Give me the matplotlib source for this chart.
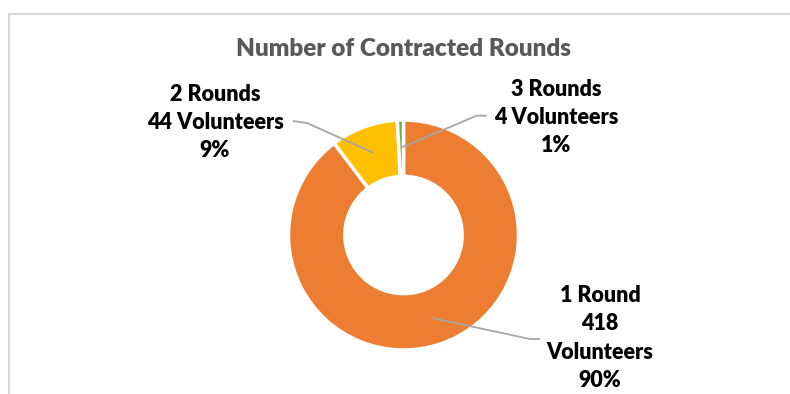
import numpy as np
import matplotlib.pyplot as plt

# contracted rounds per volunteer
categories = ['1 Round', '2 Rounds', '3 Rounds']
volunteers = [418, 44, 4]
percents = ['90%', '9%', '1%']
colors = ['#ED7D31', '#FFC000', '#70AD47']

W, H = 790, 394
plt.rcParams['font.family'] = ['Lato', 'DejaVu Sans']

fig = plt.figure(figsize=(W / 100, H / 100), dpi=100)
ax = fig.add_axes([0, 0, 1, 1])

# donut, first slice starting at 12 o'clock going clockwise
cx, cy, r = 403.5, H - 235, 115
wedges, _ = ax.pie(volunteers, colors=colors, startangle=90, counterclock=False,
                   center=(cx, cy), radius=r,
                   wedgeprops=dict(width=r * 0.49, edgecolor='white', linewidth=2.5))
ax.set_xlim(0, W)
ax.set_ylim(0, H)
ax.set_aspect('equal')
ax.axis('off')

# chart area border (only top and left are in view)
ax.plot([8.5, W], [H - 13.5, H - 13.5], color='#D9D9D9', lw=1.5)
ax.plot([8.5, 8.5], [0, H - 13.5], color='#D9D9D9', lw=1.5)

ax.text(404, H - 49, 'Number of Contracted Rounds', ha='center', va='center',
        fontsize=17.5, fontweight='heavy', color='#595959')

# label block centre, leader elbow and leader end (pixels from top-left)
label_pos = [(600, 338), (215, 122.5), (556, 117.5)]
elbows = [((530, 339), (540, 339)), ((307, 123), (293, 121)), ((476.7, 115.7), (486.7, 115.7))]

for w, cat, n, pct, (lx, ly), (e1, e2) in zip(wedges, categories, volunteers, percents, label_pos, elbows):
    mid = np.deg2rad((w.theta1 + w.theta2) / 2)
    ax0 = cx + 0.76 * r * np.cos(mid)
    ay0 = cy + 0.76 * r * np.sin(mid)
    ax.plot([ax0, e1[0], e2[0]], [ay0, H - e1[1], H - e2[1]], color='#A6A6A6', lw=1.3,
            solid_capstyle='butt')
    if cat == '1 Round':
        txt = f'{cat}\n{n}\nVolunteers\n{pct}'
    else:
        txt = f'{cat}\n{n} Volunteers\n{pct}'
    ax.text(lx, H - ly, txt, ha='center', va='center', fontsize=15.5, fontweight='heavy',
            color='black', linespacing=1.42)

fig.savefig('out.png', dpi=100)
